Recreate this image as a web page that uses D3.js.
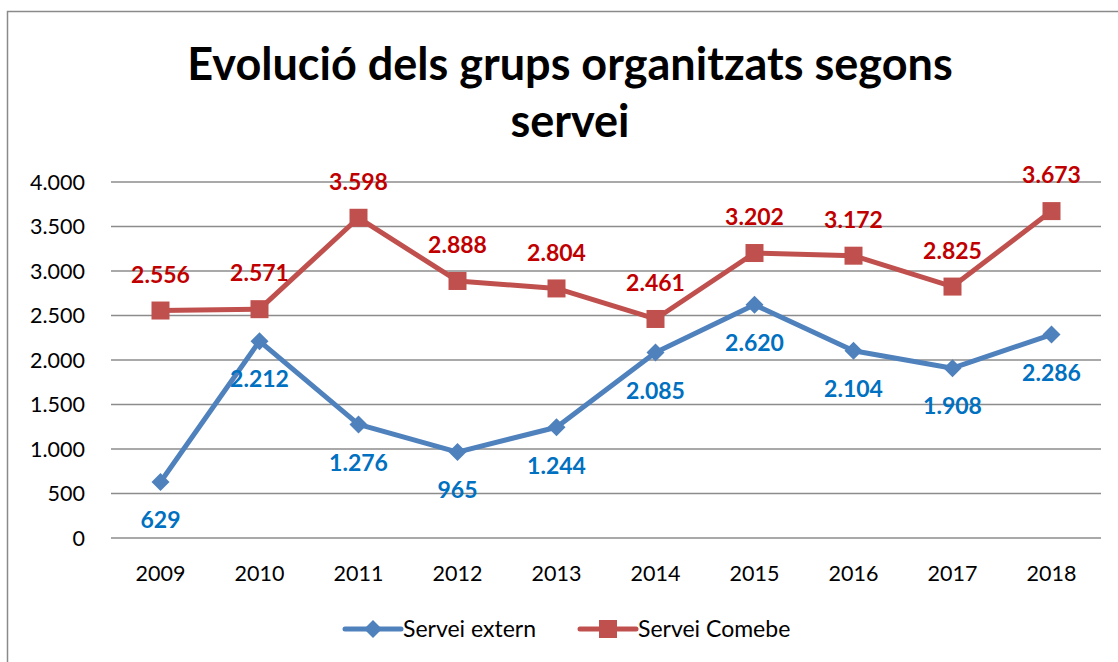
<!DOCTYPE html>
<meta charset="utf-8">
<style>
    body { margin: 0; background: #fff; }
    svg { font-family: Lato, "Open Sans", sans-serif; }
    .grid line { stroke: #8c8c8c; stroke-width: 1.5px; }
    .tick-label { font-size: 21.5px; fill: #000; }
    .leg-label { font-size: 23px; fill: #000; }
    .lbl { font-size: 23px; font-weight: bold; }
</style>
<svg width="1118" height="662"></svg>
<script src="https://d3js.org/d3.v7.min.js"></script>
<script>
    var years = ["2009", "2010", "2011", "2012", "2013", "2014", "2015", "2016", "2017", "2018"];
    var extern = [629, 2212, 1276, 965, 1244, 2085, 2620, 2104, 1908, 2286];
    var comebe = [2556, 2571, 3598, 2888, 2804, 2461, 3202, 3172, 2825, 3673];
    var yTicks = [0, 500, 1000, 1500, 2000, 2500, 3000, 3500, 4000];

    var svg = d3.select("svg");

    // chart border (runs off right and bottom edges)
    svg.append("rect")
        .attr("x", 7.5).attr("y", 11.5)
        .attr("width", 1200).attr("height", 700)
        .attr("fill", "none").attr("stroke", "#8a8a8a").attr("stroke-width", 1.5);

    // title
    var title = svg.append("text")
        .attr("text-anchor", "middle")
        .attr("font-size", 45).attr("font-weight", "bold");
    title.append("tspan").attr("x", 570).attr("y", 80).text("Evolució dels grups organitzats segons");
    title.append("tspan").attr("x", 570).attr("y", 137).text("servei");

    var x = d3.scaleBand().domain(years).range([111, 1101]);
    var y = d3.scaleLinear().domain([0, 4000]).range([538, 182]);
    var cx = function(i) { return x(years[i]) + x.bandwidth() / 2; };
    var fmt = function(v) { return d3.format(",")(v).replace(/,/g, "."); };

    svg.append("g").attr("class", "grid")
        .selectAll("line").data(yTicks).enter().append("line")
        .attr("x1", 111).attr("x2", 1101)
        .attr("y1", function(d) { return y(d); })
        .attr("y2", function(d) { return y(d); });

    svg.append("g").selectAll("text").data(yTicks).enter().append("text")
        .attr("class", "tick-label")
        .attr("x", 85).attr("y", function(d) { return y(d); })
        .attr("dy", "0.36em").attr("text-anchor", "end")
        .text(fmt);

    svg.append("g").selectAll("text").data(years).enter().append("text")
        .attr("class", "tick-label")
        .attr("x", function(d) { return x(d) + x.bandwidth() / 2; })
        .attr("y", 573).attr("dy", "0.36em").attr("text-anchor", "middle")
        .text(function(d) { return d; });

    var line = d3.line()
        .x(function(d, i) { return cx(i); })
        .y(function(d) { return y(d); });

    var series = [
        { name: "Servei extern", values: extern, color: "#4f81bd", label: "#0070c0", shape: "diamond", off: 38 },
        { name: "Servei Comebe", values: comebe, color: "#c0504d", label: "#c00000", shape: "square", off: -36 }
    ];

    function marker(g, shape, color) {
        if (shape === "diamond") {
            g.append("path").attr("d", "M0,-9L9,0L0,9L-9,0Z").attr("fill", color);
        } else {
            g.append("rect").attr("x", -9).attr("y", -9).attr("width", 18).attr("height", 18).attr("fill", color);
        }
    }

    series.forEach(function(s) {
        svg.append("path")
            .datum(s.values)
            .attr("fill", "none")
            .attr("stroke", s.color)
            .attr("stroke-width", 5)
            .attr("stroke-linejoin", "round")
            .attr("d", line);

        s.values.forEach(function(v, i) {
            var g = svg.append("g").attr("transform", "translate(" + cx(i) + "," + y(v) + ")");
            marker(g, s.shape, s.color);
        });
    });

    series.forEach(function(s) {
        svg.append("g").selectAll("text").data(s.values).enter().append("text")
            .attr("class", "lbl")
            .attr("fill", s.label)
            .attr("text-anchor", "middle")
            .attr("x", function(d, i) { return cx(i); })
            .attr("y", function(d) { return y(d) + s.off; })
            .attr("dy", "0.36em")
            .text(fmt);
    });

    // legend
    var legX = [345, 580];
    series.forEach(function(s, i) {
        var g = svg.append("g").attr("transform", "translate(" + legX[i] + ",629)");
        g.append("line").attr("x1", 0).attr("x2", 56).attr("stroke", s.color)
            .attr("stroke-width", 5).attr("stroke-linecap", "round");
        var m = g.append("g").attr("transform", "translate(28,0)");
        marker(m, s.shape, s.color);
        g.append("text").attr("class", "leg-label").attr("x", 58).attr("dy", "0.36em").text(s.name);
    });
</script>
